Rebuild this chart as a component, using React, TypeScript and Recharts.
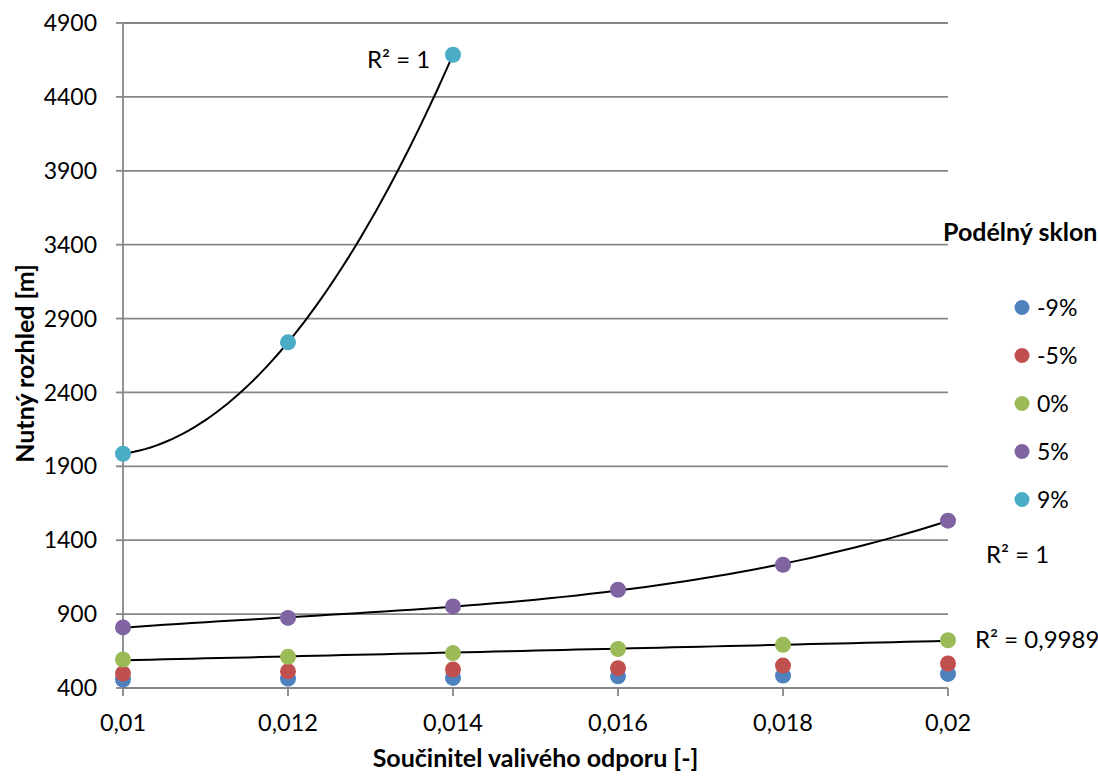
import { CartesianGrid, ComposedChart, Label, Line, Scatter, XAxis, YAxis } from "recharts";

// součinitel valivého odporu
const coefficients = [0.01, 0.012, 0.014, 0.016, 0.018, 0.02];
const xTicks = [0.01, 0.012, 0.014, 0.016, 0.018, 0.02];
const yTicks = [400, 900, 1400, 1900, 2400, 2900, 3400, 3900, 4400, 4900];

// nutný rozhled [m] per podélný sklon
const slopeMinus9 = [457, 463, 468, 479, 484, 495];
const slopeMinus5 = [498, 513, 525, 534, 552, 566];
const slope0 = [593, 611, 636, 664, 692, 723];
const slope5 = [810, 874, 952, 1065, 1234, 1532];
const slope9 = [1985, 2739, 4685];

const seriesNames = ["-9%", "-5%", "0%", "5%", "9%"];
const seriesColors = ["#4f81bd", "#c0504d", "#9bbb59", "#8064a2", "#4bacc6"];
const seriesValues = [slopeMinus9, slopeMinus5, slope0, slope5, slope9];

const FONT = "Lato";
const GRID = "#868686";

type Pt = { x: number; y: number };

const toPoints = (values: number[]): Pt[] => values.map((y, i) => ({ x: coefficients[i], y }));

// least squares polynomial trendline (like Excel's trendline)
function trendline(values: number[], degree: number, steps = 60): Pt[] {
  const xs = coefficients.slice(0, values.length);
  const t = (x: number) => (x - 0.015) * 1000;
  const n = degree + 1;
  const A: number[][] = Array.from({ length: n }, () => new Array(n + 1).fill(0));
  xs.forEach((x, k) => {
    for (let i = 0; i < n; i++) {
      for (let j = 0; j < n; j++) A[i][j] += Math.pow(t(x), i + j);
      A[i][n] += values[k] * Math.pow(t(x), i);
    }
  });
  for (let c = 0; c < n; c++) {
    let p = c;
    for (let r = c + 1; r < n; r++) if (Math.abs(A[r][c]) > Math.abs(A[p][c])) p = r;
    [A[c], A[p]] = [A[p], A[c]];
    for (let r = 0; r < n; r++) {
      if (r === c) continue;
      const f = A[r][c] / A[c][c];
      for (let k = c; k <= n; k++) A[r][k] -= f * A[c][k];
    }
  }
  const coef = A.map((row, i) => row[n] / row[i]);
  const x0 = xs[0];
  const x1 = xs[xs.length - 1];
  const out: Pt[] = [];
  for (let s = 0; s <= steps; s++) {
    const x = x0 + ((x1 - x0) * s) / steps;
    out.push({ x, y: coef.reduce((acc, c, i) => acc + c * Math.pow(t(x), i), 0) });
  }
  return out;
}

const trends = [
  { values: slope9, degree: 2 },
  { values: slope5, degree: 3 },
  { values: slope0, degree: 1 },
];

const fitLabels = [
  { text: "R² = 1", x: 367, y: 68 },
  { text: "R² = 1", x: 986, y: 563 },
  { text: "R² = 0,9989", x: 975, y: 648 },
];

export default function App() {
  return (
    <div style={{ position: "absolute", left: 0, top: 0, width: 1098, height: 776, background: "#fff" }}>
      <ComposedChart width={1098} height={776} margin={{ top: 23, right: 150, bottom: 0, left: 0 }}>
        <CartesianGrid vertical={false} stroke={GRID} strokeWidth={1.8} />
        <XAxis
          type="number"
          dataKey="x"
          domain={[0.01, 0.02]}
          ticks={xTicks}
          interval={0}
          height={88}
          tickSize={8}
          tickMargin={18}
          stroke={GRID}
          strokeWidth={1.8}
          tick={{ fill: "#000", fontSize: 23.5, fontFamily: FONT }}
          tickFormatter={(v: number) => String(v).replace(".", ",")}
        >
          <Label
            value="Součinitel valivého odporu [-]"
            position="insideBottom"
            offset={9}
            style={{ fill: "#000", fontSize: 25, fontWeight: 700, fontFamily: FONT }}
          />
        </XAxis>
        <YAxis
          type="number"
          dataKey="y"
          domain={[400, 4900]}
          ticks={yTicks}
          interval={0}
          width={123}
          tickSize={7}
          tickMargin={19}
          stroke={GRID}
          strokeWidth={1.8}
          tick={{ fill: "#000", fontSize: 23, fontFamily: FONT }}
        >
          <Label
            content={(props: any) => {
              const vb = props.viewBox || { x: 0, y: 23, height: 665 };
              const cx = vb.x + 24;
              const cy = vb.y + vb.height / 2 + 8;
              return (
                <text
                  x={cx}
                  y={cy}
                  transform={`rotate(-90 ${cx} ${cy})`}
                  textAnchor="middle"
                  dominantBaseline="central"
                  style={{ fill: "#000", fontSize: 25, fontWeight: 700, fontFamily: FONT }}
                >
                  Nutný rozhled [m]
                </text>
              );
            }}
          />
        </YAxis>
        {seriesValues.map((values, i) => (
          <Scatter
            key={seriesNames[i]}
            name={seriesNames[i]}
            data={toPoints(values)}
            fill={seriesColors[i]}
            isAnimationActive={false}
            shape={(p: any) => <circle cx={p.cx} cy={p.cy} r={8} fill={seriesColors[i]} />}
          />
        ))}
        {trends.map((tr, i) => (
          <Line
            key={"trend" + i}
            data={trendline(tr.values, tr.degree)}
            dataKey="y"
            type="linear"
            stroke="#000"
            strokeWidth={2}
            dot={false}
            activeDot={false}
            legendType="none"
            isAnimationActive={false}
          />
        ))}
      </ComposedChart>
      <svg width={1098} height={776} style={{ position: "absolute", left: 0, top: 0, pointerEvents: "none" }}>
        {fitLabels.map((l, i) => (
          <text key={i} x={l.x} y={l.y} style={{ fontSize: 24, fontFamily: FONT, fill: "#000" }}>
            {l.text}
          </text>
        ))}
        <text x={943} y={241} style={{ fontSize: 25, fontWeight: 700, fontFamily: FONT, fill: "#000" }}>
          Podélný sklon
        </text>
        {seriesNames.map((name, i) => (
          <g key={name}>
            <circle cx={1022} cy={307.5 + i * 48} r={7.5} fill={seriesColors[i]} />
            <text x={1037} y={315.5 + i * 48} style={{ fontSize: 23, fontFamily: FONT, fill: "#000" }}>
              {name}
            </text>
          </g>
        ))}
      </svg>
    </div>
  );
}
